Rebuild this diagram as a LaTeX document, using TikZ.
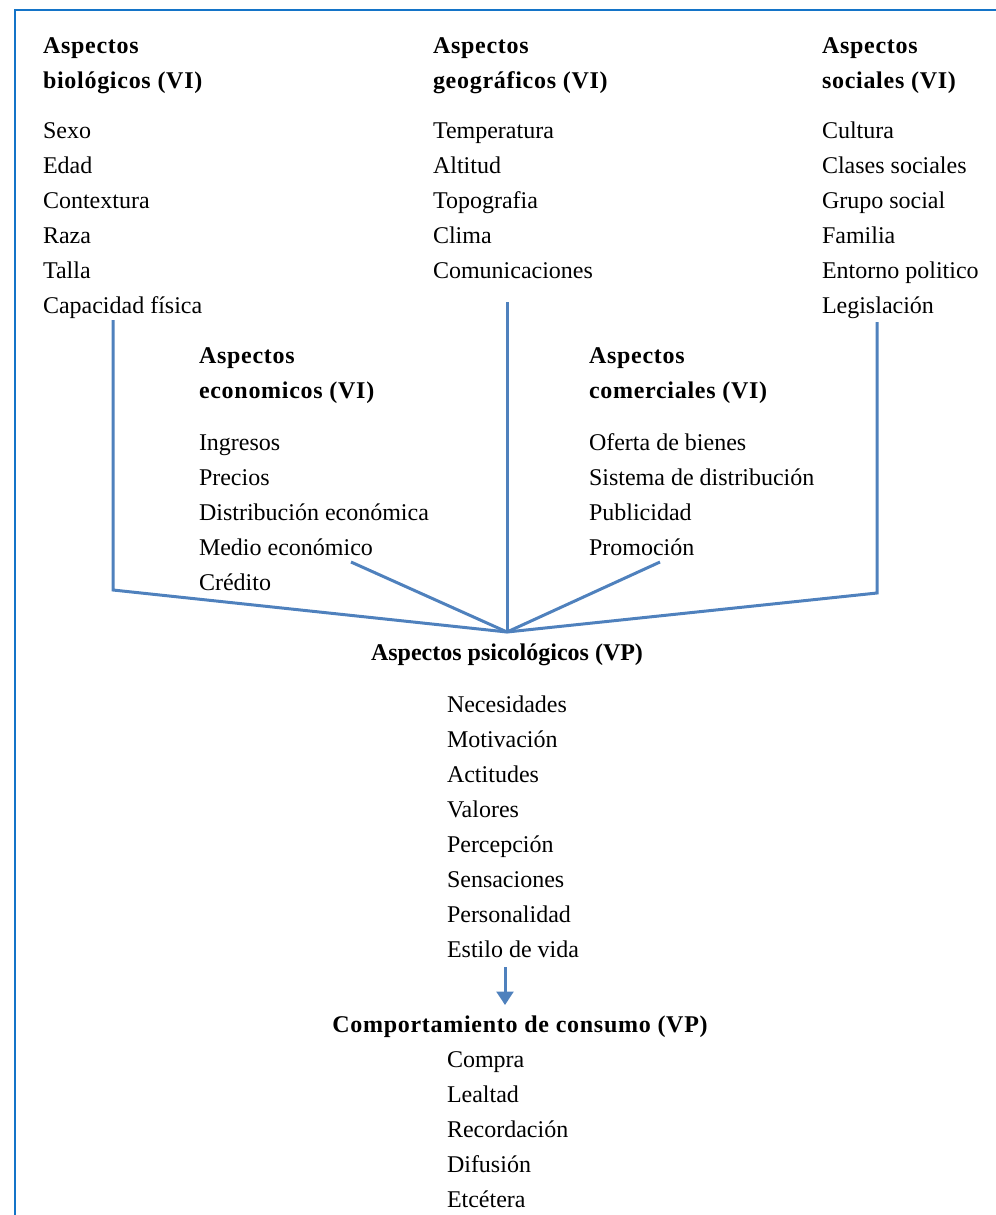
\documentclass[tikz,border=0pt]{standalone}
\usepackage{fontspec}
\setmainfont{Liberation Serif}
\usetikzlibrary{arrows.meta}
\definecolor{framec}{RGB}{20,116,200}
\definecolor{linkc}{RGB}{79,129,189}
\begin{document}
\begin{tikzpicture}[x=0.75pt,y=-0.75pt,
  txt/.style={inner sep=0pt,outer sep=0pt,anchor=base west,font=\fontsize{18}{21}\selectfont},
  head/.style={txt,font=\fontsize{18}{21}\selectfont\bfseries},
  widehead/.style={txt,font=\fontsize{18}{21}\selectfont\bfseries\addfontfeature{LetterSpace=3}},
  link/.style={draw=linkc,line width=2.25pt,line join=miter},
  frame/.style={draw=framec,line width=1.2pt}]
\useasboundingbox (0,0) rectangle (996,1215);
% frame edges
\draw[frame] (15,1216) -- (15,10) -- (997,10);

% column of items, one node per line, 35px apart
\newcommand\itemcol[4]{%
  \foreach \t [count=\i] in {#4}
    \node[txt] (#1-\i) at (#2,{#3+35*(\i-1)}) {\t};}
\newcommand\headtwo[5]{%
  \node[widehead] (#1-h1) at (#2,#3) {#4};
  \node[widehead] (#1-h2) at (#2,#3+35) {#5};}

% top row
\headtwo{bio}{43}{53}{Aspectos}{biológicos (VI)}
\itemcol{bio}{43}{138}{Sexo,Edad,Contextura,Raza,Talla,Capacidad física}
\headtwo{geo}{433}{53}{Aspectos}{geográficos (VI)}
\itemcol{geo}{433}{138}{Temperatura,Altitud,Topografia,Clima,Comunicaciones}
\headtwo{soc}{822}{53}{Aspectos}{sociales (VI)}
\itemcol{soc}{822}{138}{Cultura,Clases sociales,Grupo social,Familia,Entorno politico,Legislación}

% middle row
\headtwo{eco}{199}{363}{Aspectos}{economicos (VI)}
\itemcol{eco}{199}{450}{Ingresos,Precios,Distribución económica,Medio económico,Crédito}
\headtwo{com}{589}{363}{Aspectos}{comerciales (VI)}
\itemcol{com}{589}{450}{Oferta de bienes,Sistema de distribución,Publicidad,Promoción}

% psychological aspects
\node[head,anchor=base] (psy-h) at (507,660) {Aspectos psicológicos (VP)};
\itemcol{psy}{447}{712}{Necesidades,Motivación,Actitudes,Valores,Percepción,Sensaciones,Personalidad,Estilo de vida}

% consumer behaviour
\node[widehead,anchor=base] (con-h) at (520,1032) {Comportamiento de consumo (VP)};
\itemcol{con}{447}{1067}{Compra,Lealtad,Recordación,Difusión,Etcétera}

% connector points
\coordinate (bioTop) at (113,320);
\coordinate (bioCorner) at (113,590);
\coordinate (geoTop) at (507,302);
\coordinate (socTop) at (877,322);
\coordinate (socCorner) at (877,593);
\coordinate (ecoEnd) at (351,562);
\coordinate (comEnd) at (660,562);
\coordinate (hub) at (507,632);
\coordinate (arrTop) at (505,967);
\coordinate (arrTip) at (505,1005);

\draw[link] (bioTop) -- (bioCorner) -- (hub);
\draw[link] (socTop) -- (socCorner) -- (hub);
\draw[link] (geoTop) -- (hub);
\draw[link] (ecoEnd) -- (hub);
\draw[link] (comEnd) -- (hub);
\draw[link,-{Triangle[length=10pt,width=12.5pt]}] (arrTop) -- (arrTip);
\end{tikzpicture}
\end{document}
